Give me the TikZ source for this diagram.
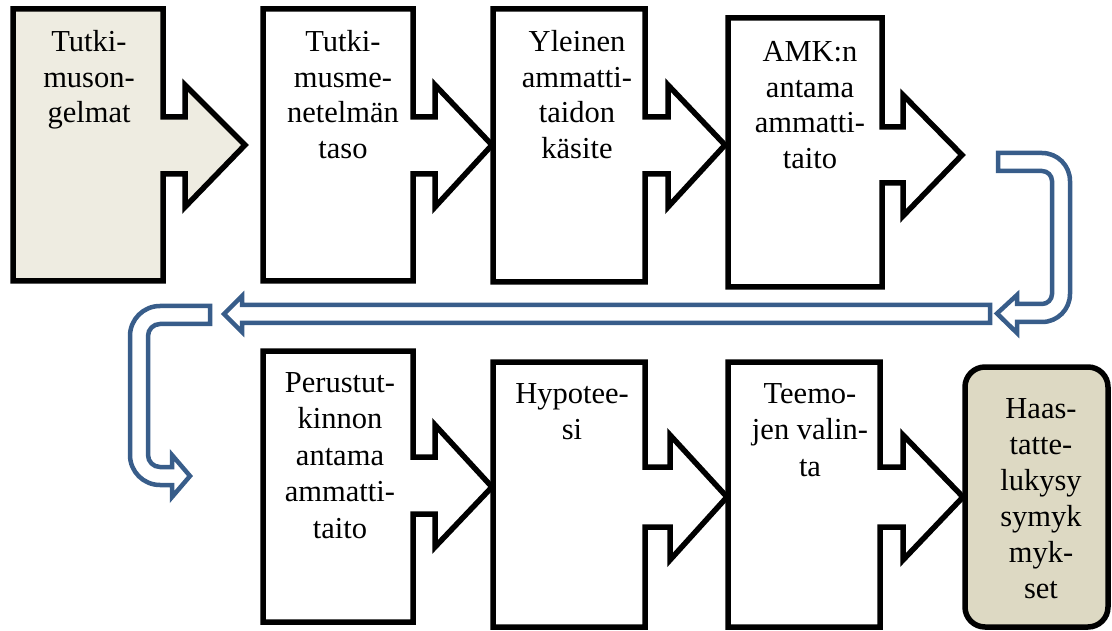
\documentclass[tikz,border=0pt]{standalone}
\usepackage{fontspec}
\setmainfont{Liberation Serif}
\definecolor{paleTan}{HTML}{EEECE1}
\definecolor{darkTan}{HTML}{DDD9C3}
\definecolor{flowBlue}{HTML}{385D8A}

% A tall box with a block arrow on its right side:
% #1 fill, #2 left, #3 top, #4 right, #5 bottom, #6/#7 shaft top/bottom,
% #8 shaft end, #9 arrow tip; the head reaches 32pt beyond the shaft
\newcommand{\arrowbox}[9]{%
  \draw[shapebox, fill=#1] (#2,#3) -- (#4,#3) -- (#4,#6) -- (#8,#6) -- (#8,{#6-32})
    -- #9 -- (#8,{#7+33}) -- (#8,#7) -- (#4,#7) -- (#4,#5) -- (#2,#5) -- cycle;}

\begin{document}
\begin{tikzpicture}[x=1pt, y=-1pt,
  shapebox/.style={draw=black, line width=5.5pt, line join=miter},
  turn/.style={draw=flowBlue, line width=4.5pt, fill=white, line join=miter},
  % labels are placed by the baseline of their last line
  lbl/.style={anchor=base, align=center, inner sep=0pt,
    font=\fontsize{30.5}{35.5}\selectfont}]
\useasboundingbox (0,0) rectangle (1112,631);

% upper row
\arrowbox{paleTan}{13}{9}{163}{281}{117}{174}{185}{(245,145)}
\arrowbox{white}{263}{9}{413}{281}{117}{174}{435}{(492,145)}
\arrowbox{white}{493}{9}{645}{282}{117}{174}{668}{(725,145)}
\arrowbox{white}{728}{18}{882}{287}{127}{183}{903}{(962,155)}

% lower row
\arrowbox{white}{263}{351}{413}{622}{457}{514}{435}{(492,487)}
\arrowbox{white}{493}{362}{645}{627}{467}{527}{670}{(727,497)}
\arrowbox{white}{728}{362}{880}{627}{467}{527}{903}{(963,497)}
\draw[shapebox, fill=darkTan, rounded corners=20pt] (965,367) rectangle (1108,627);

% U-turn on the right, back towards the left
\draw[turn] (998,153) -- (1042,153) .. controls (1057.5,153) and (1070,165.5) .. (1070,181)
  -- (1070,294) .. controls (1070,309.5) and (1057.5,322) .. (1042,322)
  -- (1017,322) -- (1017,333) -- (997,313.5) -- (1017,295) -- (1017,304)
  -- (1042,304) .. controls (1047.5,304) and (1052,299.5) .. (1052,294)
  -- (1052,181) .. controls (1052,175.5) and (1047.5,171) .. (1042,171)
  -- (998,171) -- cycle;

% long arrow across the page
\draw[turn] (990,305) -- (242,305) -- (242,296) -- (224,314) -- (242,332)
  -- (242,323) -- (990,323) -- cycle;

% U-turn on the left, down into the lower row
\draw[turn] (210,306) -- (160,306) .. controls (143.4,306) and (130,319.4) .. (130,336)
  -- (130,455) .. controls (130,471.6) and (143.4,485) .. (160,485)
  -- (172,485) -- (172,497) -- (190,476) -- (172,455) -- (172,467)
  -- (160,467) .. controls (153.4,467) and (148,461.6) .. (148,455)
  -- (148,336) .. controls (148,329.4) and (153.4,324) .. (160,324)
  -- (210,324) -- cycle;

% labels
\node[lbl] (t1) at (89,123) {Tutki-\\muson-\\gelmat};
\node[lbl] (t2) at (343,158.5) {Tutki-\\musme-\\netelmän\\taso};
\node[lbl] (t3) at (577,158.5) {Yleinen\\ammatti-\\taidon\\käsite};
\node[lbl] (t4) at (810,168.5) {AMK:n\\antama\\ammatti-\\taito};
\node[lbl, font=\fontsize{30.5}{36.5}\selectfont] (t5) at (340,538) {Perustut-\\kinnon\\antama\\ammatti-\\taito};
\node[lbl, font=\fontsize{30.5}{36.5}\selectfont] (t6) at (572,439.5) {Hypotee-\\si};
\node[lbl, font=\fontsize{30.5}{36.5}\selectfont] (t7) at (810,476) {Teemo-\\jen valin-\\ta};
\node[lbl, font=\fontsize{30.5}{36}\selectfont] (t8) at (1041,598) {Haas-\\tatte-\\lukysy\\symyk\\myk-\\set};
\end{tikzpicture}
\end{document}
